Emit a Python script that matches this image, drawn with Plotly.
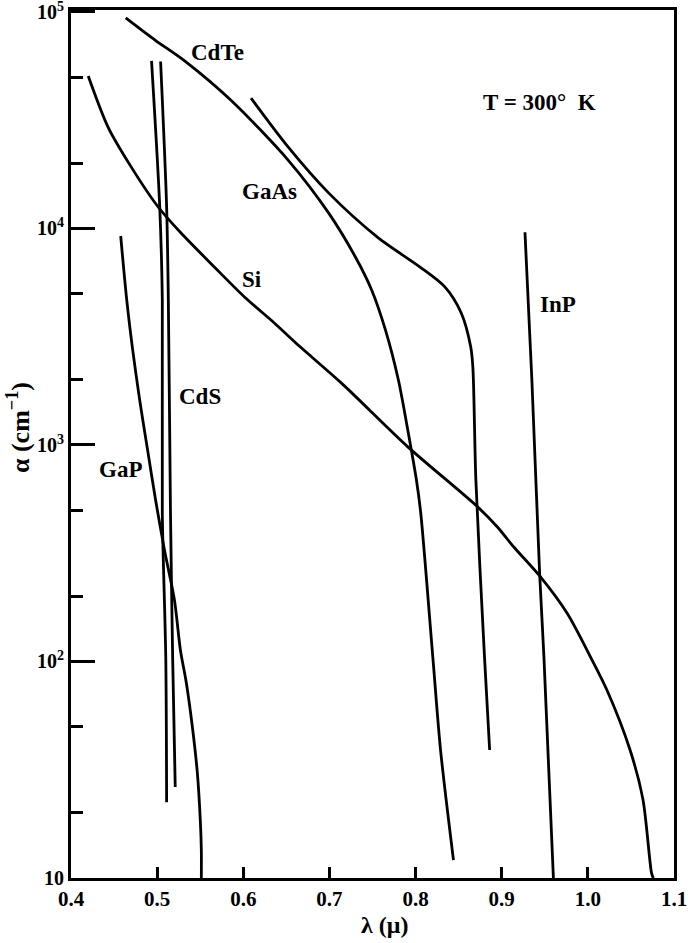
import plotly.graph_objects as go

# Wavelength (micron) and absorption coefficient alpha (cm^-1)
cdte_lam = [0.4635, 0.498, 0.533, 0.586, 0.652, 0.699, 0.730, 0.749, 0.765, 0.780, 0.791, 0.801, 0.806, 0.820, 0.829, 0.844]
cdte_alpha = [9.4e4, 7.4e4, 5.9e4, 3.9e4, 2.07e4, 1.18e4, 7.4e3, 5.2e3, 3.4e3, 2.0e3, 1.17e3, 689, 485, 105, 39, 12.1]

gaas_lam = [0.609, 0.652, 0.699, 0.756, 0.806, 0.834, 0.853, 0.864, 0.8665, 0.870, 0.880, 0.886]
gaas_alpha = [4.0e4, 2.38e4, 1.46e4, 9.1e3, 6.6e3, 5.37e3, 4.07e3, 2.84e3, 2.29e3, 689, 105, 39]

si_lam = [0.420, 0.443, 0.470, 0.501, 0.528, 0.567, 0.602, 0.636, 0.666, 0.714, 0.791, 0.872, 0.895, 0.914, 0.945, 0.976, 1.003, 1.022, 1.049, 1.064, 1.074, 1.076]
si_alpha = [5.06e4, 2.94e4, 1.92e4, 1.26e4, 9.5e3, 6.6e3, 4.8e3, 3.66e3, 2.84e3, 1.93e3, 980, 518, 418, 338, 246, 167, 105, 74, 39, 23, 10.5, 10]

inp_lam = [0.927, 0.935, 0.944, 0.949, 0.960]
inp_alpha = [9.6e3, 2.0e3, 256, 105, 10]

gap_lam = [0.4577, 0.4647, 0.4716, 0.4797, 0.4889, 0.4982, 0.5085, 0.5201, 0.5270, 0.5339, 0.5409, 0.5467, 0.5501, 0.5513, 0.5513]
gap_alpha = [9230, 4680, 2750, 1615, 949, 557, 327, 192, 113, 79.6, 49.8, 30.5, 18.5, 13.5, 10]

cds1_lam = [0.4935, 0.503, 0.506, 0.506, 0.510, 0.511]
cds1_alpha = [5.94e4, 1.26e4, 4.68e3, 485, 105, 22.4]

cds2_lam = [0.504, 0.511, 0.513, 0.5155, 0.518, 0.521]
cds2_alpha = [5.9e4, 1.26e4, 4.68e3, 485, 105, 26.3]

x_ticks = [0.4, 0.5, 0.6, 0.7, 0.8, 0.9, 1.0, 1.1]
x_tick_text = ["0.4", "0.5", "0.6", "0.7", "0.8", "0.9", "1.0", "1.1"]
y_ticks = [10, 100, 1000, 10000, 100000]
y_tick_text = ["10", "10<sup>2</sup>", "10<sup>3</sup>", "10<sup>4</sup>", "10<sup>5</sup>"]
y_minor = [20, 50, 200, 500, 2000, 5000, 20000, 50000]

labels = ["CdTe", "GaAs", "Si", "CdS", "GaP", "InP", "T = 300°  K"]
label_x = [0.570, 0.630, 0.610, 0.550, 0.457, 0.965, 0.944]
label_logy = [4.811, 4.173, 3.762, 3.226, 2.885, 3.651, 4.584]

FONT = "Liberation Serif"

fig = go.Figure()
series = [
    (cdte_lam, cdte_alpha, "CdTe"),
    (gaas_lam, gaas_alpha, "GaAs"),
    (si_lam, si_alpha, "Si"),
    (inp_lam, inp_alpha, "InP"),
    (gap_lam, gap_alpha, "GaP"),
    (cds1_lam, cds1_alpha, "CdS"),
    (cds2_lam, cds2_alpha, "CdS"),
]
for lx, ly, name in series:
    fig.add_trace(go.Scatter(x=lx, y=ly, mode="lines", name=name,
                             line=dict(color="black", width=2.8, shape="spline", smoothing=0.8),
                             showlegend=False))

for t, ax, ay in zip(labels, label_x, label_logy):
    fig.add_annotation(x=ax, y=ay, xref="x", yref="y", text=t, showarrow=False,
                       font=dict(family=FONT, size=23, color="black", weight="bold"))

# axis titles
fig.add_annotation(x=0.52, y=-0.054, xref="paper", yref="paper", text="λ (μ)",
                   showarrow=False, xanchor="center", yanchor="middle",
                   font=dict(family=FONT, size=24, color="black", weight="bold"))
fig.add_annotation(x=-0.087, y=0.519, xref="paper", yref="paper", text="α (cm<sup>−1</sup>)",
                   showarrow=False, textangle=-90, xanchor="center", yanchor="middle",
                   font=dict(family=FONT, size=26, color="black", weight="bold"))

fig.update_layout(
    width=688, height=943,
    margin=dict(l=71, r=14, t=10, b=65),
    paper_bgcolor="white", plot_bgcolor="white",
    font=dict(family=FONT, color="black", size=20),
    xaxis=dict(range=[0.4, 1.1], tickvals=x_ticks, ticktext=x_tick_text,
               ticks="inside", ticklen=11, tickwidth=2.5, tickcolor="black",
               showline=True, linewidth=3, linecolor="black", mirror=True,
               showgrid=False, zeroline=False, automargin=False,
               ticklabeloverflow="allow",
               tickfont=dict(family=FONT, size=21, weight="bold")),
    yaxis=dict(type="log", range=[1, 5.009], tickvals=y_ticks, ticktext=y_tick_text,
               ticks="inside", ticklen=24, tickwidth=2.5, tickcolor="black",
               showline=True, linewidth=3, linecolor="black", mirror=True,
               showgrid=False, zeroline=False, automargin=False,
               ticklabeloverflow="allow",
               minor=dict(tickmode="array", tickvals=y_minor, ticks="inside", ticklen=12,
                          tickwidth=2.5, tickcolor="black", showgrid=False),
               tickfont=dict(family=FONT, size=20, weight="bold")),
)

fig.write_html("out.html")
